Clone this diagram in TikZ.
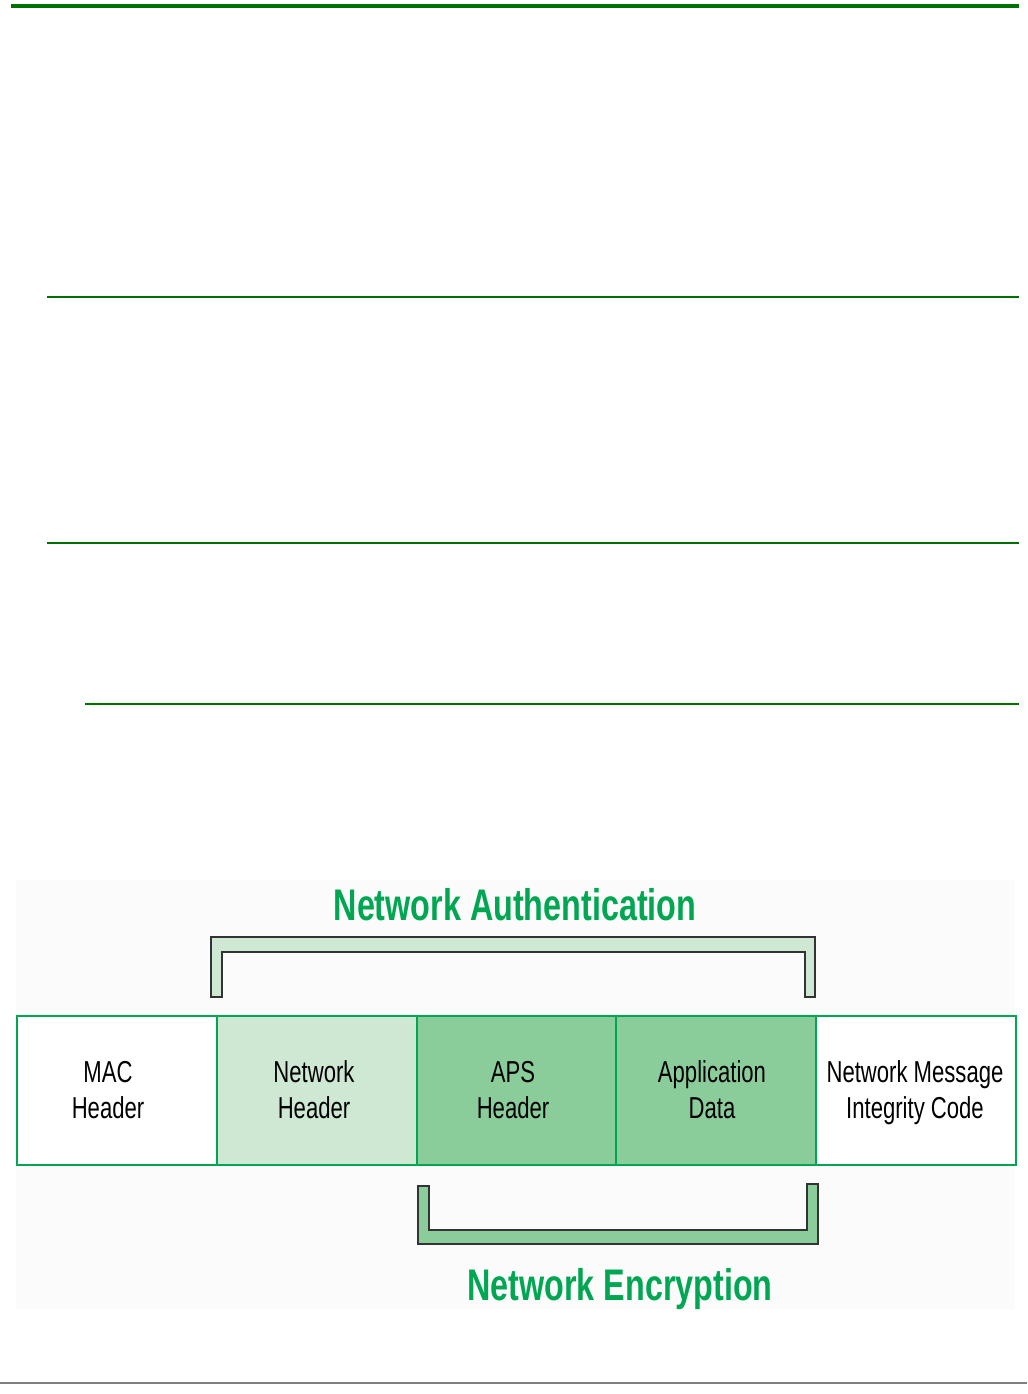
\documentclass[tikz,border=0pt]{standalone}
\usepackage{fontspec}
\newfontfamily\narrowfont[FakeStretch=0.73]{Liberation Sans}
\definecolor{rulegreen}{RGB}{0,112,0}
\definecolor{boxgreen}{RGB}{0,166,81}
\definecolor{lightfill}{RGB}{207,232,211}
\definecolor{midfill}{RGB}{139,204,155}
\definecolor{titlegreen}{RGB}{0,166,81}
\definecolor{faintbg}{RGB}{251,251,251}
\newcommand{\mylines}[2]{\begin{tabular}[t]{@{}c@{}}#1\\#2\end{tabular}}
\begin{document}
\begin{tikzpicture}[x=0.75pt,y=-0.75pt,
  field/.style={draw=boxgreen,line width=1.6pt,minimum width=150pt,minimum height=111.75pt,inner sep=0pt,anchor=north west},
  lbl/.style={anchor=base,inner sep=0pt,font=\narrowfont\fontsize{22.7}{27}\selectfont},
  title/.style={anchor=base,inner sep=0pt,text=titlegreen,font=\narrowfont\bfseries\fontsize{33.2}{40}\selectfont},
  bracket/.style={draw=black!80,line width=0.8pt}]
\useasboundingbox (0,0) rectangle (1027,1394);
% page rules
\draw[rulegreen,line width=2.3pt] (11,6) -- (1019,6);
\draw[rulegreen,line width=1.9pt] (47,297) -- (1019,297);
\draw[rulegreen,line width=1.9pt] (47,543) -- (1019,543);
\draw[rulegreen,line width=1.1pt] (85,704) -- (1019,704);
\draw[black!50,line width=1.2pt] (0,1383) -- (1027,1383);
% faint background of the figure
\fill[faintbg] (16,880) rectangle (1015,1309);
% fields
\node[field,fill=white] (mac) at (16,1015) {};
\node[field,fill=lightfill] (nwk) at (216,1015) {};
\node[field,fill=midfill] (aps) at (416,1015) {};
\node[field,fill=midfill] (app) at (615,1015) {};
\node[field,fill=white,minimum width=150pt] (mic) at (815,1015) {};
\node[lbl] (tmac) at (108,1082) {\mylines{MAC}{Header}};
\node[lbl] (tnwk) at (314,1082) {\mylines{Network}{Header}};
\node[lbl] (taps) at (513,1082) {\mylines{APS}{Header}};
\node[lbl] (tapp) at (712,1082) {\mylines{Application}{Data}};
\node[lbl] (tmic) at (915,1082) {\mylines{Network Message}{Integrity Code}};
% brackets
\filldraw[bracket,fill=lightfill] (211,997) -- (211,937) -- (815,937) -- (815,997) -- (805,997) -- (805,952) -- (222,952) -- (222,997) -- cycle;
\filldraw[bracket,fill=midfill] (418,1186) -- (418,1244) -- (818,1244) -- (818,1184) -- (807,1184) -- (807,1230) -- (429,1230) -- (429,1186) -- cycle;
% titles
\node[title] (auth) at (515,920) {Network Authentication};
\node[title] (enc) at (620,1300) {Network Encryption};
\end{tikzpicture}
\end{document}
